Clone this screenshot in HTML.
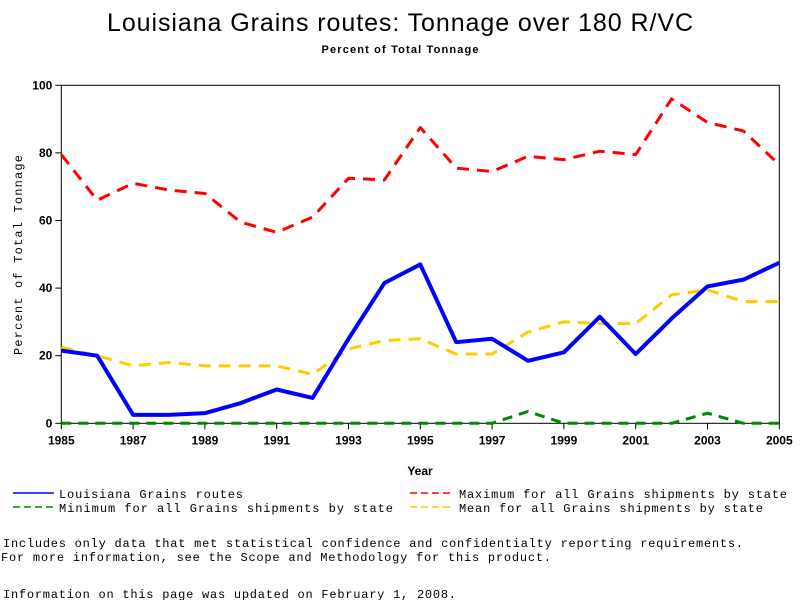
<!DOCTYPE html>
<html><head><meta charset="utf-8"><style>body{margin:0;background:#fff}svg{display:block}</style></head>
<body>
<svg id="chart" width="800" height="600" xmlns="http://www.w3.org/2000/svg">
<text x="400" y="31" text-anchor="middle" font-family="Liberation Sans, sans-serif" font-size="25" textLength="586">Louisiana Grains routes: Tonnage over 180 R/VC</text>
<text x="400" y="53" text-anchor="middle" font-family="Liberation Sans, sans-serif" font-size="11" font-weight="bold" textLength="157">Percent of Total Tonnage</text>
<g id="plot"></g>
<text transform="translate(22,255) rotate(-90)" text-anchor="middle" font-family="Liberation Mono, monospace" font-size="12" textLength="200">Percent of Total Tonnage</text>
<text x="420" y="475" text-anchor="middle" font-family="Liberation Sans, sans-serif" font-size="12" font-weight="bold">Year</text>
<g font-family="Liberation Mono, monospace" font-size="12">
<g><line x1="13" y1="493" x2="54" y2="493" stroke="#00f" stroke-width="1.5"/><text x="59" y="498" textLength="184">Louisiana Grains routes</text></g>
<g><line x1="410" y1="493" x2="452" y2="493" stroke="#f00" stroke-width="1.5" stroke-dasharray="7,4"/><text x="459" y="498" textLength="328">Maximum for all Grains shipments by state</text></g>
<g><line x1="13" y1="507" x2="54" y2="507" stroke="#080" stroke-width="1.5" stroke-dasharray="7,4"/><text x="59" y="512" textLength="334">Minimum for all Grains shipments by state</text></g>
<g><line x1="410" y1="507" x2="452" y2="507" stroke="#fc0" stroke-width="1.5" stroke-dasharray="7,4"/><text x="459" y="512" textLength="304">Mean for all Grains shipments by state</text></g>
</g>
<g font-family="Liberation Mono, monospace" font-size="12">
<text x="3" y="547" textLength="740">Includes only data that met statistical confidence and confidentialty reporting requirements.</text>
<text x="1" y="561" textLength="550">For more information, see the Scope and Methodology for this product.</text>
<text x="3" y="598" textLength="453">Information on this page was updated on February 1, 2008.</text>
</g>
</svg>
<script>
const years = [1985,1986,1987,1988,1989,1990,1991,1992,1993,1994,1995,1996,1997,1998,1999,2000,2001,2002,2003,2004,2005];
const louisiana = [21.5,20,2.5,2.5,3,6,10,7.5,25,41.5,47,24,25,18.5,21,31.5,20.5,31,40.5,42.5,47.5];
const maximum = [79.5,66,71,69,68,59.5,56.5,61,72.5,72,87.5,75.5,74.5,79,78,80.5,79.5,96,89,86.5,76.5];
const mean = [22.5,20,17,18,17,17,17,14.5,22,24.5,25,20.5,20.5,27,30,29.5,29.5,38,39.5,36,36];
const minimum = [0,0,0,0,0,0,0,0,0,0,0,0,0,3.5,0,0,0,0,3,0,0];
const yTicks = [0,20,40,60,80,100];
const xTicks = [1985,1987,1989,1991,1993,1995,1997,1999,2001,2003,2005];

const L=61.3,R=779.3,T=85.3,B=423.3;
const xs=v=>L+(v-1985)/(2005-1985)*(R-L);
const ys=v=>B-v/100*(B-T);
const NS="http://www.w3.org/2000/svg";
const g=document.getElementById('plot');
function mk(t,a){const e=document.createElementNS(NS,t);for(const k in a)e.setAttribute(k,a[k]);g.appendChild(e);return e;}
const frame=mk('rect',{x:L,y:T,width:R-L,height:B-T,fill:'none',stroke:'#000','stroke-width':1});


yTicks.forEach(v=>{
  const t=mk('line',{x1:L-6,x2:L,y1:ys(v),y2:ys(v),stroke:'#000'});
  
  
  const l=mk('text',{x:L-9,y:ys(v)+4,'text-anchor':'end','font-family':'Liberation Sans, sans-serif','font-size':12,'font-weight':'bold'});
  l.textContent=v;
  
  
});
xTicks.forEach(v=>{
  const t=mk('line',{x1:xs(v),x2:xs(v),y1:B,y2:B+6,stroke:'#000'});
  
  
  const l=mk('text',{x:xs(v),y:B+21,'text-anchor':'middle','font-family':'Liberation Sans, sans-serif','font-size':12,'font-weight':'bold'});
  l.textContent=v;
  
  
});
function series(vals,color,w,dash,name){
  const p=mk('polyline',{points:vals.map((v,i)=>xs(years[i])+','+ys(v)).join(' '),fill:'none',stroke:color,'stroke-width':w,'stroke-dasharray':dash,'stroke-linejoin':'round'});
  
  
}
series(minimum,'#080',3,'10,7','line-minimum');
series(mean,'#fc0',3,'12,8','line-mean');
series(maximum,'#f00',3,'12,8','line-maximum');
series(louisiana,'#00f',4,'none','line-louisiana');
</script>
</body></html>
